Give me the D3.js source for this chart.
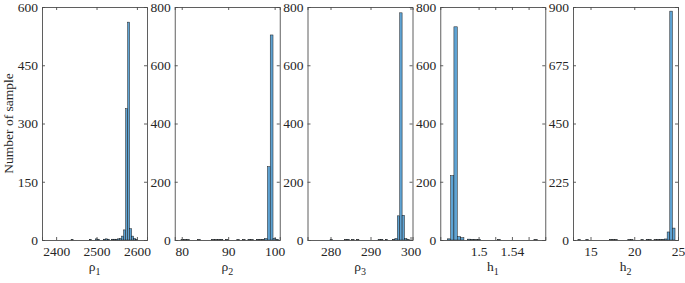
<!DOCTYPE html>
<html>
<head>
<meta charset="utf-8">
<script src="https://cdn.jsdelivr.net/npm/d3@7"></script>
<style>
  body { margin: 0; background: #fff; }
  svg text { font-family: "Liberation Serif", "Times New Roman", serif; fill: #262626; }
</style>
</head>
<body>
<div id="chart"></div>
<script>
// Histogram data: left bin edges and counts for each parameter

const rho1BinWidth = 5;
const rho1Bins   = [2437, 2482, 2497, 2502, 2517, 2522, 2527, 2537, 2542, 2547, 2552, 2557, 2562, 2567, 2572, 2577, 2582, 2587, 2592, 2597];
const rho1Counts = [1, 1, 3, 2, 2, 3, 2, 2, 2, 2, 3, 4, 10, 26, 338, 561, 29, 10, 4, 1];

const rho2BinWidth = 0.6;
const rho2Bins   = [79.85, 80.45, 81.05, 83.45, 86.45, 87.05, 87.65, 88.25, 89.45, 91.85, 93.05, 94.25, 94.85, 96.05, 96.65, 97.25, 97.85, 98.45, 99.05, 99.65, 100.25];
const rho2Counts = [1, 1, 1, 1, 1, 1, 1, 2, 1, 1, 1, 2, 1, 2, 1, 2, 5, 252, 704, 6, 2];

const rho3BinWidth = 0.6;
const rho3Bins   = [279.9, 283.5, 284.1, 285.3, 286.5, 291.9, 292.5, 293.7, 295.5, 296.1, 296.7, 297.3, 297.9, 298.5, 299.1];
const rho3Counts = [1, 1, 2, 1, 1, 1, 2, 1, 2, 5, 83, 780, 85, 5, 1];

const h1BinWidth = 0.004;
const h1Bins   = [1.4624, 1.4664, 1.4704, 1.4744, 1.4784, 1.4864, 1.4904, 1.4944, 1.4984, 1.5224, 1.5664];
const h1Counts = [4, 221, 732, 12, 8, 3, 2, 1, 2, 1, 1];

const h2BinWidth = 0.3;
const h2Bins   = [13.56, 14.46, 17.16, 17.46, 17.76, 19.26, 19.56, 20.76, 21.36, 21.66, 22.26, 22.56, 22.86, 23.16, 23.46, 23.76, 24.06, 24.36];
const h2Counts = [1, 1, 1, 1, 1, 1, 1, 1, 2, 1, 1, 2, 1, 2, 4, 31, 884, 46];

// Axis limits and ticks
const xDomains = [[2365, 2625], [78.5, 101.1], [274.25, 300.5], [1.454, 1.58], [13, 25]];
const xTicks = [[2400, 2500, 2600], [80, 90, 100], [280, 290, 300], [1.5, 1.52, 1.54, 1.56], [15, 20, 25]];
const xTickLabels = [["2400", "2500", "2600"], ["80", "90", "100"], ["280", "290", "300"], ["1.5", "", "1.54", ""], ["15", "20", "25"]];
const yMax = [600, 800, 800, 800, 900];
const yTicks = [[0, 150, 300, 450, 600], [0, 200, 400, 600, 800], [0, 200, 400, 600, 800], [0, 200, 400, 600, 800], [0, 225, 450, 675, 900]];
const xTitles = [["ρ", "1"], ["ρ", "2"], ["ρ", "3"], ["h", "1"], ["h", "2"]];
const yTitle = "Number of sample";

const panels = [
  {bins: rho1Bins, counts: rho1Counts, bw: rho1BinWidth},
  {bins: rho2Bins, counts: rho2Counts, bw: rho2BinWidth},
  {bins: rho3Bins, counts: rho3Counts, bw: rho3BinWidth},
  {bins: h1Bins, counts: h1Counts, bw: h1BinWidth},
  {bins: h2Bins, counts: h2Counts, bw: h2BinWidth}
];

// Layout
const W = 685, H = 283;
const plotTop = 7, plotBottom = 240;
const left0 = 42, panelW = 105, step = 132.75;
const tickLen = 3;
const barFill = "#5fa3d3";
const axisColor = "#4d4d4d";

const svg = d3.select("#chart")
  .append("svg")
    .attr("width", W)
    .attr("height", H);

panels.forEach(function(p, i) {
  const x0 = left0 + i * step;
  const x = d3.scaleLinear().domain(xDomains[i]).range([x0, x0 + panelW]);
  const y = d3.scaleLinear().domain([0, yMax[i]]).range([plotBottom, plotTop]);

  const g = svg.append("g");

  // Bars
  g.selectAll("rect")
    .data(p.bins.map((b, j) => ({x0: b, x1: b + p.bw, n: p.counts[j]})))
    .enter()
    .append("rect")
      .attr("x", d => x(d.x0))
      .attr("y", d => y(d.n))
      .attr("width", d => x(d.x1) - x(d.x0))
      .attr("height", d => y(0) - y(d.n))
      .attr("fill", barFill)
      .attr("stroke", "#1a1a1a")
      .attr("stroke-width", 0.5);

  // Bottom axis
  const labels = xTickLabels[i];
  const xb = g.append("g")
    .attr("transform", `translate(0,${plotBottom})`)
    .call(d3.axisBottom(x)
      .tickValues(xTicks[i])
      .tickSize(-tickLen)
      .tickPadding(6)
      .tickFormat((d, k) => labels[k]));

  // Top axis (mirrored ticks)
  const xt = g.append("g")
    .attr("transform", `translate(0,${plotTop})`)
    .call(d3.axisTop(x)
      .tickValues(xTicks[i])
      .tickSize(-tickLen)
      .tickFormat(""));

  // Left axis
  const yl = g.append("g")
    .attr("transform", `translate(${x0},0)`)
    .call(d3.axisLeft(y)
      .tickValues(yTicks[i])
      .tickSize(-tickLen)
      .tickPadding(4)
      .tickFormat(d3.format("d")));

  // Right axis (mirrored ticks)
  const yr = g.append("g")
    .attr("transform", `translate(${x0 + panelW},0)`)
    .call(d3.axisRight(y)
      .tickValues(yTicks[i])
      .tickSize(-tickLen)
      .tickFormat(""));

  [xb, xt, yl, yr].forEach(function(a) {
    a.select(".domain").attr("stroke", axisColor).attr("stroke-width", 0.9);
    a.selectAll(".tick line").attr("stroke", axisColor).attr("stroke-width", 0.9);
    a.selectAll(".tick text")
      .style("font-size", "13.5px")
      .style("font-family", "'Liberation Serif', serif")
      .attr("fill", "#262626");
  });

  // X axis title
  const t = g.append("text")
    .attr("x", x0 + panelW / 2)
    .attr("y", 271)
    .attr("text-anchor", "middle")
    .style("font-size", "13.5px");
  t.append("tspan").text(xTitles[i][0]);
  t.append("tspan")
    .attr("dy", 4)
    .style("font-size", "10px")
    .text(xTitles[i][1]);
});

// Y axis title
svg.append("text")
  .attr("transform", `translate(13,${(plotTop + plotBottom) / 2}) rotate(-90)`)
  .attr("text-anchor", "middle")
  .style("font-size", "13.5px")
  .text(yTitle);
</script>
</body>
</html>
